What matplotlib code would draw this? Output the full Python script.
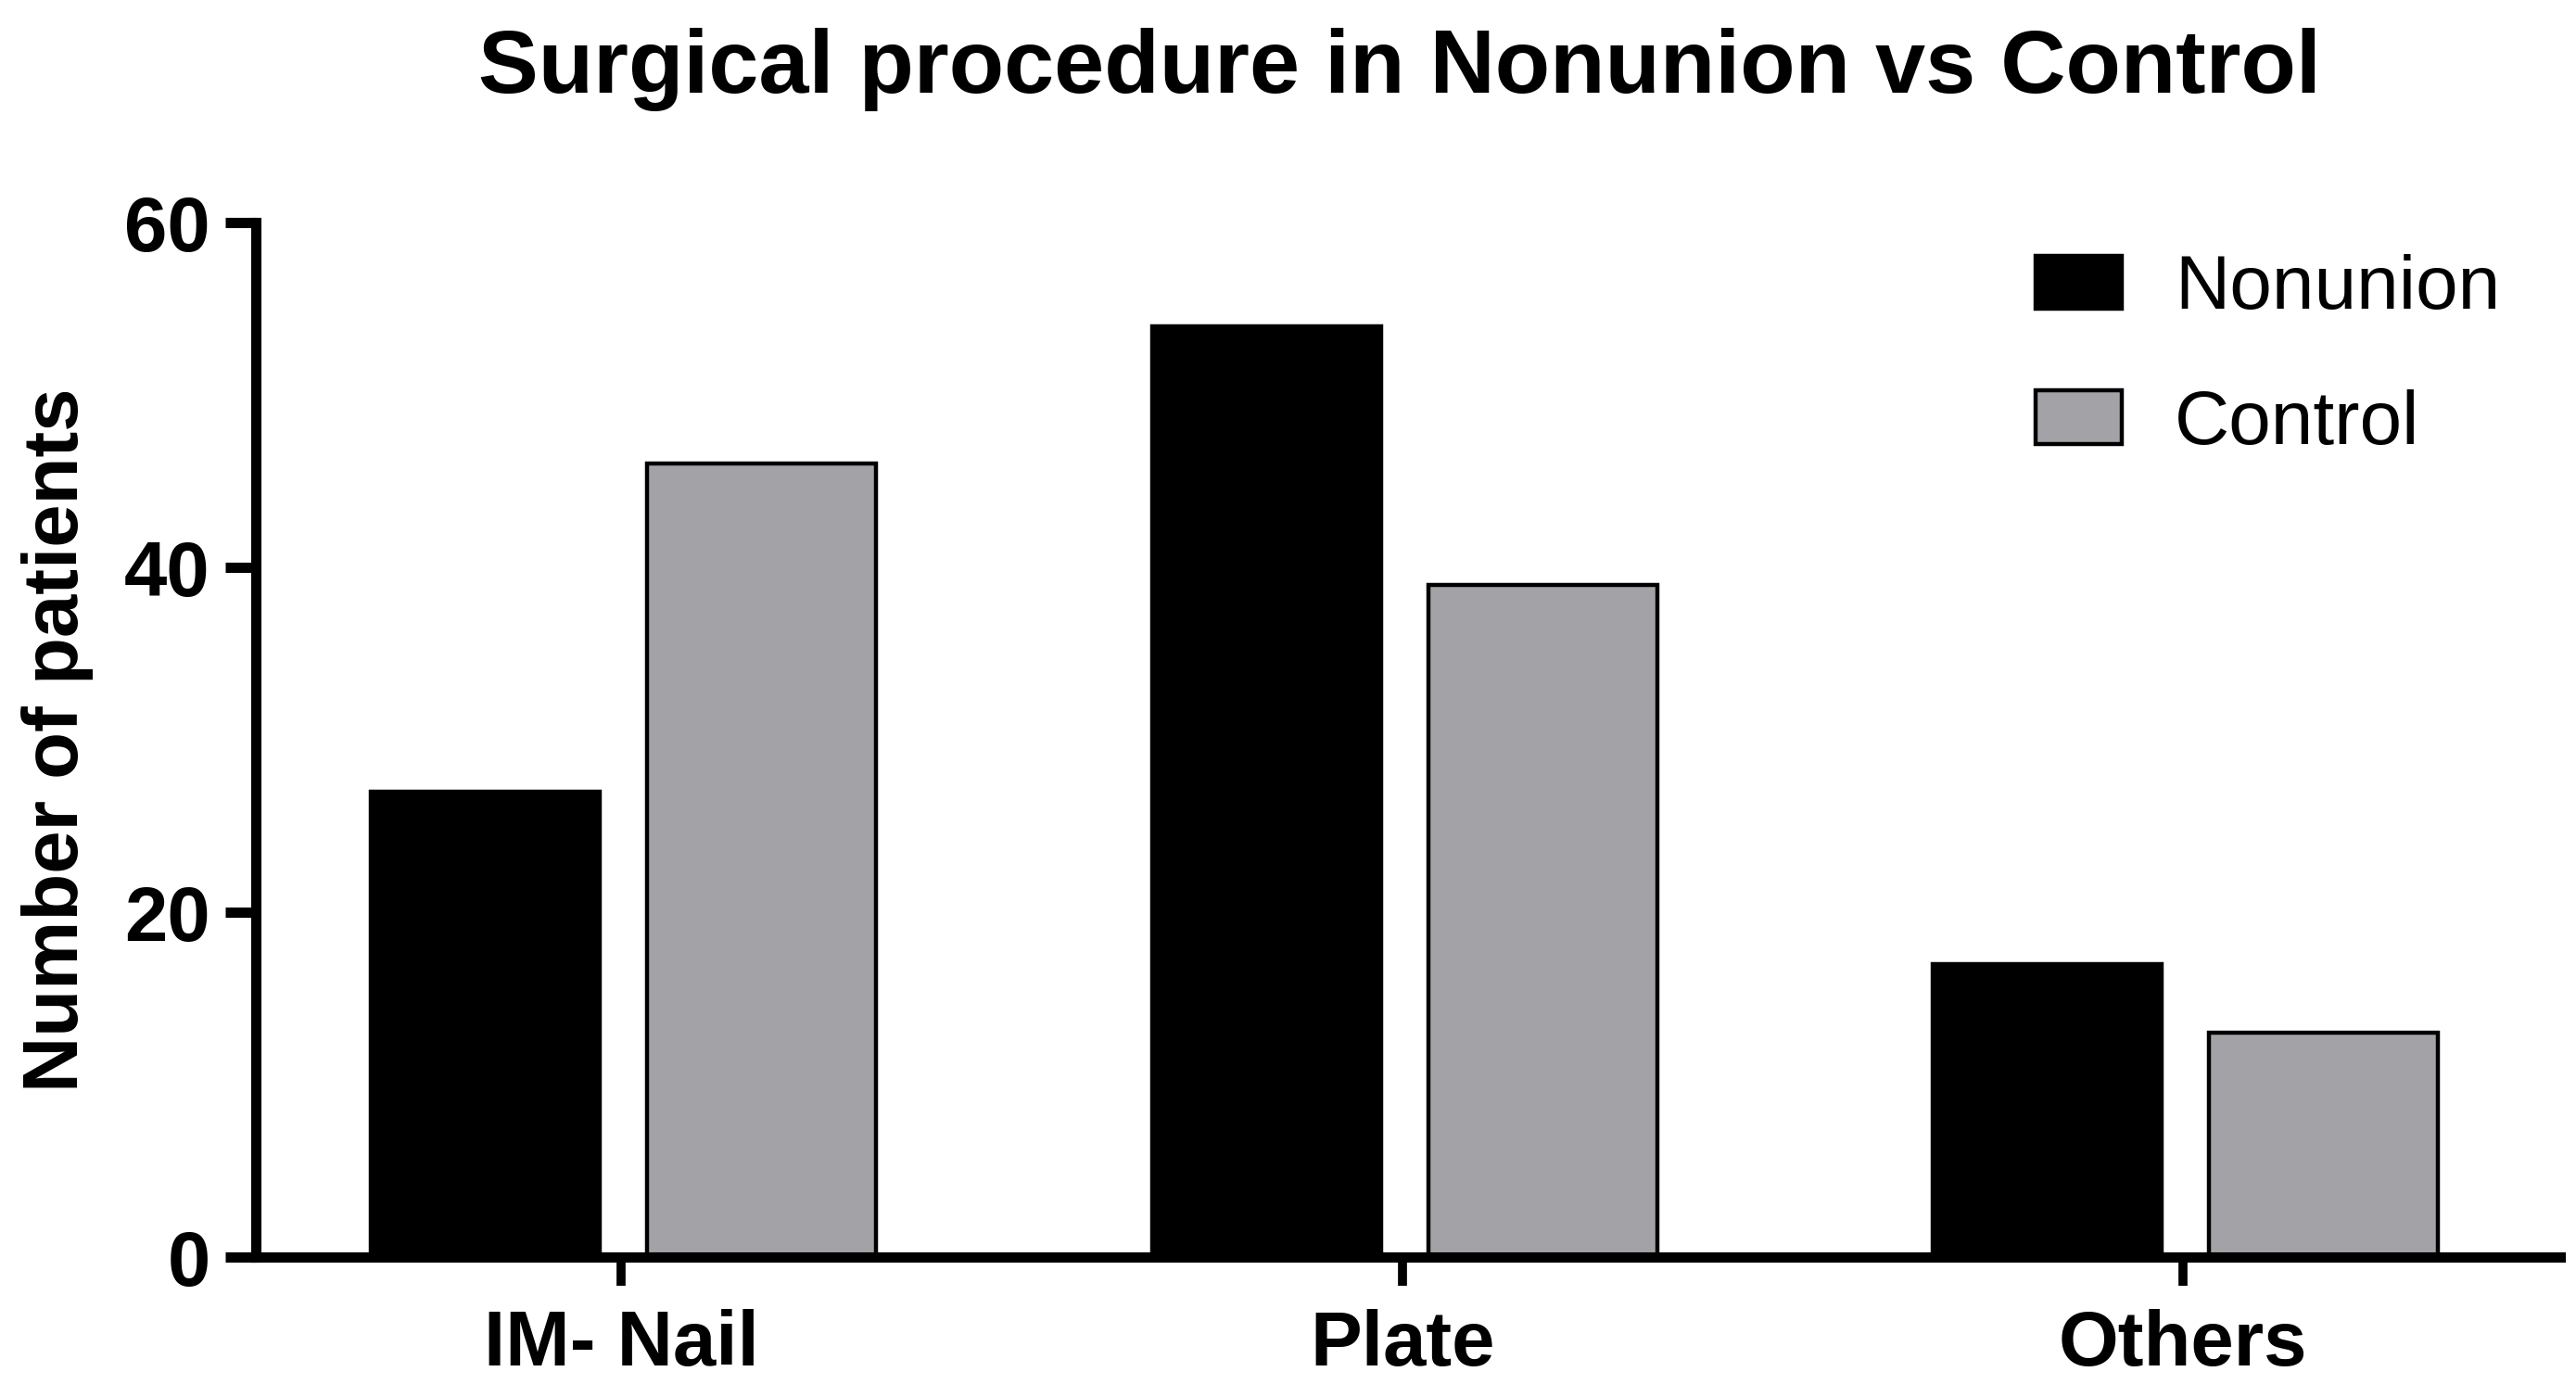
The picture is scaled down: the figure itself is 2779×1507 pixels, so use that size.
import matplotlib
matplotlib.use("Agg")
import matplotlib.pyplot as plt
import numpy as np

categories = ["IM- Nail", "Plate", "Others"]
series_names = ["Nonunion", "Control"]
nonunion = [27, 54, 17]
control = [46, 39, 13]
yticks = [0, 20, 40, 60]

title = "Surgical procedure in Nonunion vs Control"
ylabel = "Number of patients"

plt.rcParams['font.family'] = ['Liberation Sans', 'DejaVu Sans']

W, H, DPI = 2779, 1507, 100
fig = plt.figure(figsize=(W / DPI, H / DPI), dpi=DPI)
fig.patch.set_facecolor('white')

left_px, right_px, bottom_px, top_px = 276, 2762, 1356, 240
ax = fig.add_axes([left_px / W, 1 - bottom_px / H,
                   (right_px - left_px) / W, (bottom_px - top_px) / H])

x = np.arange(len(categories))
bw = 0.293
gray = '#a3a2a7'
b1 = ax.bar(x - 0.174, nonunion, width=bw, color='black', edgecolor='black',
            linewidth=3.2, label=series_names[0], zorder=2)
b2 = ax.bar(x + 0.180, control, width=bw, color=gray, edgecolor='black',
            linewidth=3.2, label=series_names[1], zorder=2)

ax.set_xlim(-0.468, 2.483)
ax.set_ylim(0, 60)
ax.set_yticks(yticks)
ax.set_xticks(x)
ax.set_xticklabels(categories)

for s in ['top', 'right']:
    ax.spines[s].set_visible(False)
for s in ['left', 'bottom']:
    ax.spines[s].set_linewidth(8)
    ax.spines[s].set_zorder(3)
    ax.spines[s].set_capstyle('projecting')

ax.tick_params(axis='y', direction='out', length=24, width=8, pad=11.5,
               labelsize=60)
ax.tick_params(axis='x', direction='out', length=22, width=7, pad=18,
               labelsize=60)
for lab in ax.get_xticklabels() + ax.get_yticklabels():
    lab.set_fontweight('bold')

ax.set_ylabel(ylabel, fontsize=60, fontweight='bold', labelpad=24)

fig.text(1510 / W, 1 - 100 / H, title, ha='center', va='baseline',
         fontsize=70, fontweight='bold')

leg = ax.legend(loc='upper left', bbox_to_anchor=(2196 / W, 1 - 274 / H),
                bbox_transform=fig.transFigure, frameon=False, fontsize=59,
                handlelength=1.13, handleheight=0.7, handletextpad=0.7,
                labelspacing=0.85, borderpad=0, borderaxespad=0)

fig.savefig("out.png", dpi=DPI, facecolor='white')
